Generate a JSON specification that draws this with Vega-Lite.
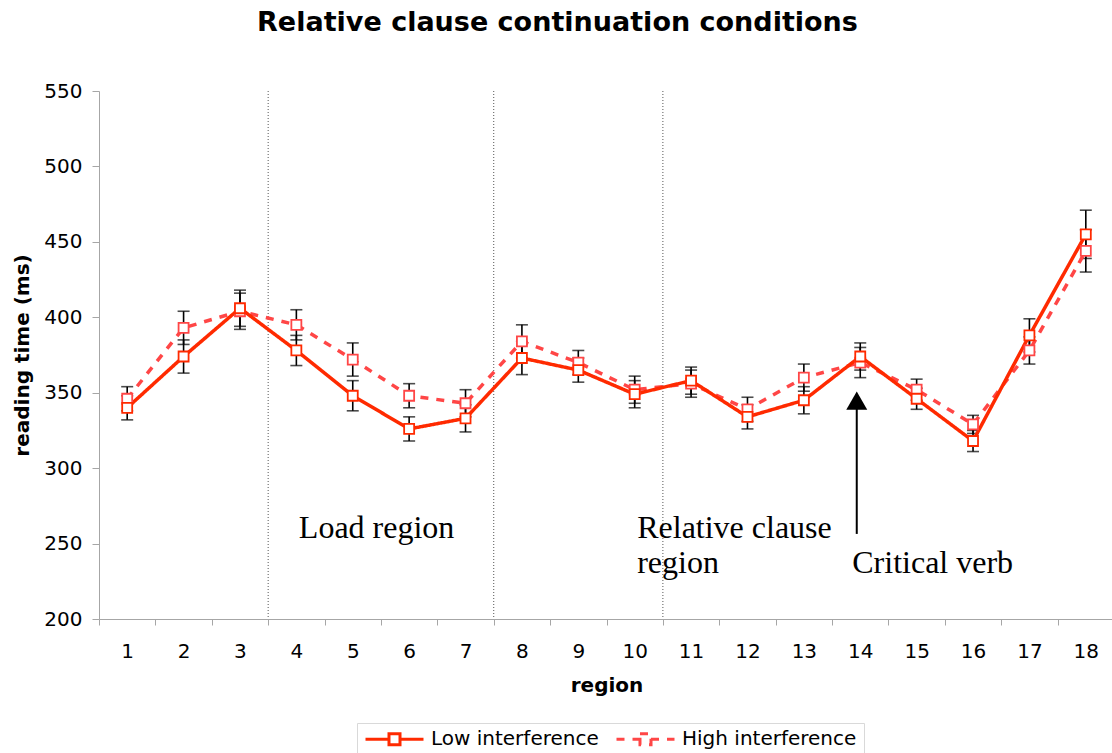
{
  "$schema": "https://vega.github.io/schema/vega-lite/v6.json",
  "autosize": {"type": "none"},
  "width": 1015,
  "height": 528,
  "padding": {"left": 99, "top": 91, "right": 0, "bottom": 134},
  "title": {
    "text": "Relative clause continuation conditions",
    "font": "DejaVu Sans",
    "fontSize": 27,
    "fontWeight": "bold",
    "color": "black",
    "anchor": "middle",
    "baseline": "alphabetic",
    "offset": 23,
    "dx": -49
  },
  "config": {
    "view": {"stroke": null},
    "axis": {
      "domainColor": "#a6a6a6",
      "tickColor": "#a6a6a6",
      "labelFont": "DejaVu Sans",
      "labelFontSize": 20,
      "labelColor": "black",
      "titleFont": "DejaVu Sans",
      "titleFontSize": 20,
      "titleFontWeight": "bold",
      "titleColor": "black",
      "grid": false
    },
    "legend": {
      "title": null,
      "orient": "none",
      "legendX": 258,
      "legendY": 632,
      "direction": "horizontal",
      "symbolType": "M-1,0H-0.19M0.19,0H1M-0.19,-0.19H0.19V0.19H-0.19Z",
      "symbolSize": 3364,
      "symbolStrokeWidth": 3,
      "symbolFillColor": "white",
      "labelFont": "DejaVu Sans",
      "labelFontSize": 20,
      "labelColor": "black",
      "labelLimit": 400,
      "labelOffset": 6,
      "columnPadding": 11,
      "padding": 7,
      "strokeColor": "#d9d9d9"
    }
  },
  "datasets": {
    "rt": [
      {"region": 1, "condition": "High interference", "rt": 346, "err": 8},
      {"region": 2, "condition": "High interference", "rt": 393, "err": 11},
      {"region": 3, "condition": "High interference", "rt": 404, "err": 12},
      {"region": 4, "condition": "High interference", "rt": 395, "err": 10},
      {"region": 5, "condition": "High interference", "rt": 372, "err": 11},
      {"region": 6, "condition": "High interference", "rt": 348, "err": 8},
      {"region": 7, "condition": "High interference", "rt": 343, "err": 9},
      {"region": 8, "condition": "High interference", "rt": 384, "err": 11},
      {"region": 9, "condition": "High interference", "rt": 370, "err": 8},
      {"region": 10, "condition": "High interference", "rt": 352, "err": 9},
      {"region": 11, "condition": "High interference", "rt": 356, "err": 9},
      {"region": 12, "condition": "High interference", "rt": 339, "err": 8},
      {"region": 13, "condition": "High interference", "rt": 360, "err": 9},
      {"region": 14, "condition": "High interference", "rt": 370, "err": 10},
      {"region": 15, "condition": "High interference", "rt": 352, "err": 7},
      {"region": 16, "condition": "High interference", "rt": 329, "err": 6},
      {"region": 17, "condition": "High interference", "rt": 378, "err": 9},
      {"region": 18, "condition": "High interference", "rt": 444, "err": 14},
      {"region": 1, "condition": "Low interference", "rt": 340, "err": 8},
      {"region": 2, "condition": "Low interference", "rt": 374, "err": 11},
      {"region": 3, "condition": "Low interference", "rt": 406, "err": 12},
      {"region": 4, "condition": "Low interference", "rt": 378, "err": 10},
      {"region": 5, "condition": "Low interference", "rt": 348, "err": 10},
      {"region": 6, "condition": "Low interference", "rt": 326, "err": 8},
      {"region": 7, "condition": "Low interference", "rt": 333, "err": 9},
      {"region": 8, "condition": "Low interference", "rt": 373, "err": 11},
      {"region": 9, "condition": "Low interference", "rt": 365, "err": 8},
      {"region": 10, "condition": "Low interference", "rt": 349, "err": 9},
      {"region": 11, "condition": "Low interference", "rt": 358, "err": 9},
      {"region": 12, "condition": "Low interference", "rt": 334, "err": 8},
      {"region": 13, "condition": "Low interference", "rt": 345, "err": 9},
      {"region": 14, "condition": "Low interference", "rt": 374, "err": 9},
      {"region": 15, "condition": "Low interference", "rt": 346, "err": 7},
      {"region": 16, "condition": "Low interference", "rt": 318, "err": 7},
      {"region": 17, "condition": "Low interference", "rt": 388, "err": 11},
      {"region": 18, "condition": "Low interference", "rt": 455, "err": 16}
    ],
    "bounds": [{"region": 4}, {"region": 8}, {"region": 11}],
    "regionNotes": [
      {"region": 4, "rt": 254, "label": "Load region"},
      {"region": 10, "rt": 254, "label": "Relative clause\nregion"}
    ],
    "verbNote": [
      {"region": 14, "rt": 230.5, "label": "Critical verb"}
    ],
    "arrow": [{"region": 14, "top": 340, "bottom": 256.4, "head": 344.8}]
  },
  "encoding": {
    "x": {
      "field": "region",
      "type": "ordinal",
      "scale": {
        "type": "band",
        "domain": [1, 2, 3, 4, 5, 6, 7, 8, 9, 10, 11, 12, 13, 14, 15, 16, 17, 18],
        "paddingInner": 0,
        "paddingOuter": 0
      },
      "axis": {
        "title": "region",
        "labelAngle": 0,
        "tickBand": "extent",
        "tickSize": 6,
        "labelPadding": 16,
        "titlePadding": 14
      }
    }
  },
  "layer": [
    {
      "data": {"name": "bounds"},
      "mark": {"type": "rule", "color": "#555555", "strokeWidth": 1, "strokeDash": [1, 2]},
      "encoding": {"x": {"field": "region", "type": "ordinal", "bandPosition": 0}}
    },
    {
      "data": {"name": "rt"},
      "mark": {
        "type": "errorbar",
        "color": "black",
        "thickness": 1.6,
        "ticks": {"size": 12, "color": "black", "thickness": 1.6}
      },
      "encoding": {
        "y": {
          "field": "rt",
          "type": "quantitative",
          "scale": {"domain": [200, 550], "nice": false, "zero": false},
          "axis": {
            "title": "reading time (ms)",
            "values": [200, 250, 300, 350, 400, 450, 500, 550],
            "tickSize": 7,
            "labelPadding": 10,
            "titlePadding": 11
          }
        },
        "yError": {"field": "err"}
      }
    },
    {
      "data": {"name": "rt"},
      "mark": {"type": "line", "strokeWidth": 3.5},
      "encoding": {
        "y": {"field": "rt", "type": "quantitative"},
        "color": {
          "field": "condition",
          "type": "nominal",
          "scale": {
            "domain": ["Low interference", "High interference"],
            "range": ["#ff2a00", "#ff4646"]
          },
          "legend": {
            "encode": {
              "symbols": {"update": {"y": {"value": 9}, "fill": {"value": "white"}}},
              "labels": {"update": {"y": {"value": 9}}}
            }
          }
        },
        "strokeDash": {
          "field": "condition",
          "type": "nominal",
          "scale": {
            "domain": ["Low interference", "High interference"],
            "range": [[1, 0], [8, 8]]
          },
          "legend": {
            "encode": {
              "symbols": {"update": {"y": {"value": 9}, "fill": {"value": "white"}}},
              "labels": {"update": {"y": {"value": 9}}}
            }
          }
        }
      }
    },
    {
      "data": {"name": "rt"},
      "mark": {"type": "point", "shape": "square", "filled": false, "fill": "white", "fillOpacity": 1, "size": 100, "strokeWidth": 1.8, "opacity": 1},
      "encoding": {
        "y": {"field": "rt", "type": "quantitative"},
        "stroke": {
          "field": "condition",
          "type": "nominal",
          "scale": {
            "domain": ["Low interference", "High interference"],
            "range": ["#ff2a00", "#ff4646"]
          },
          "legend": null
        }
      }
    },
    {
      "data": {"name": "regionNotes"},
      "mark": {
        "type": "text",
        "font": "Liberation Serif",
        "fontSize": 32,
        "align": "left",
        "baseline": "alphabetic",
        "lineBreak": "\n",
        "lineHeight": 35,
        "color": "black",
        "dx": 2.5
      },
      "encoding": {
        "y": {"field": "rt", "type": "quantitative"},
        "text": {"field": "label"}
      }
    },
    {
      "data": {"name": "verbNote"},
      "mark": {
        "type": "text",
        "font": "Liberation Serif",
        "fontSize": 32,
        "align": "left",
        "baseline": "alphabetic",
        "color": "black",
        "dx": -8
      },
      "encoding": {
        "y": {"field": "rt", "type": "quantitative"},
        "text": {"field": "label"}
      }
    },
    {
      "data": {"name": "arrow"},
      "mark": {"type": "rule", "color": "black", "strokeWidth": 2, "xOffset": -3.5},
      "encoding": {
        "y": {"field": "top", "type": "quantitative"},
        "y2": {"field": "bottom"}
      }
    },
    {
      "data": {"name": "arrow"},
      "mark": {"type": "point", "shape": "triangle-up", "filled": true, "color": "black", "size": 440, "opacity": 1, "xOffset": -3.5},
      "encoding": {
        "y": {"field": "head", "type": "quantitative"}
      }
    }
  ]
}
